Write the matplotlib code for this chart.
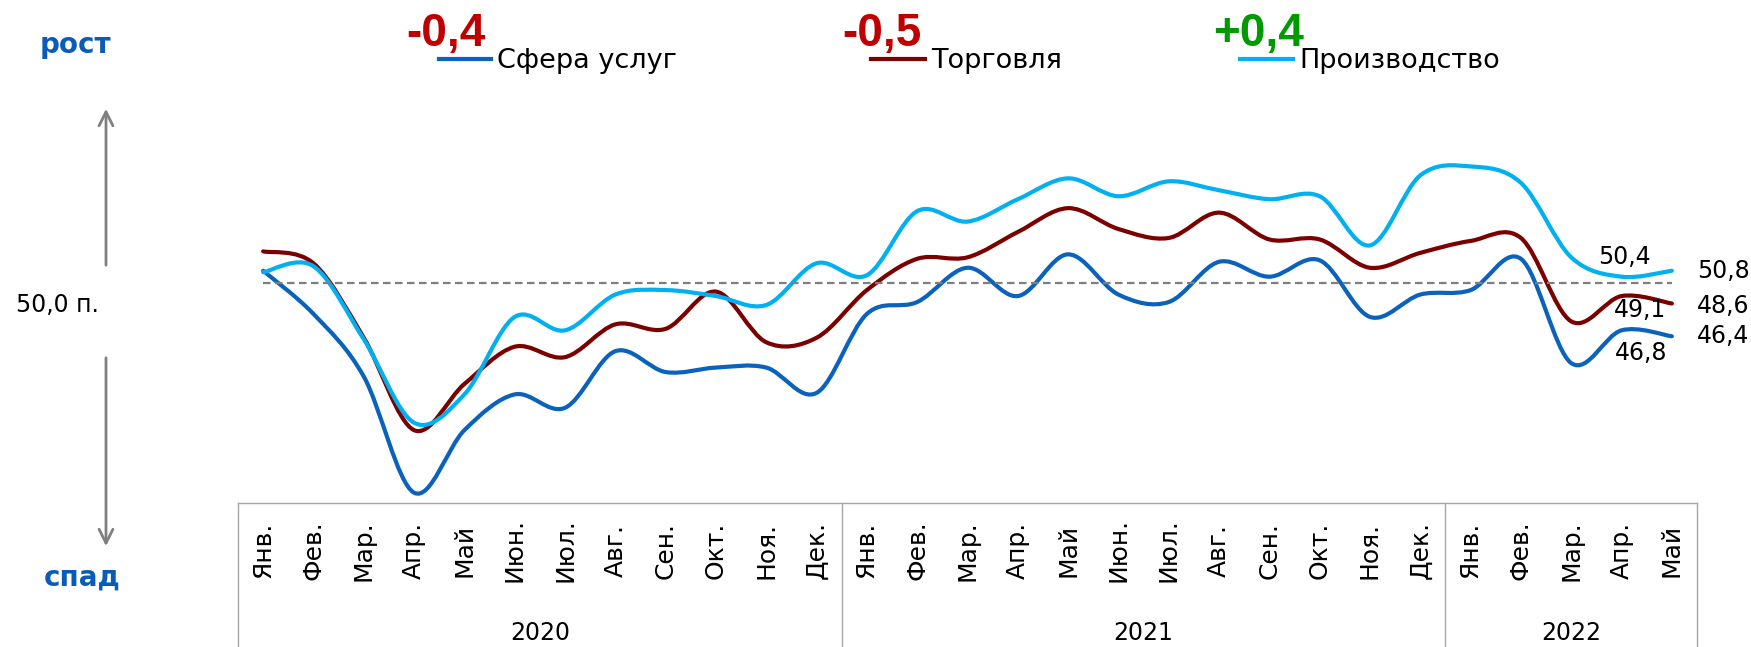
import numpy as np
import matplotlib.pyplot as plt
from matplotlib.path import Path
from matplotlib.patches import PathPatch, FancyArrowPatch
from matplotlib.lines import Line2D

plt.rcParams['font.family'] = ['DejaVu Sans']

# data: PMI-like index, Jan 2020 - May 2022
months = ['Янв.', 'Фев.', 'Мар.', 'Апр.', 'Май', 'Июн.', 'Июл.', 'Авг.', 'Сен.', 'Окт.', 'Ноя.', 'Дек.',
          'Янв.', 'Фев.', 'Мар.', 'Апр.', 'Май', 'Июн.', 'Июл.', 'Авг.', 'Сен.', 'Окт.', 'Ноя.', 'Дек.',
          'Янв.', 'Фев.', 'Мар.', 'Апр.', 'Май']
years = ['2020', '2021', '2022']
year_len = [12, 12, 5]

services = [50.8, 47.9, 43.7, 35.9, 40.1, 42.5, 41.6, 45.4, 44.0, 44.3, 44.3, 42.6,
            47.9, 48.7, 51.0, 49.1, 51.9, 49.2, 48.7, 51.4, 50.4, 51.5, 47.7, 49.2,
            49.5, 51.6, 44.6, 46.8, 46.4]
trade = [52.1, 51.3, 46.3, 40.1, 43.2, 45.7, 45.0, 47.2, 46.9, 49.4, 46.0, 46.3,
         49.5, 51.6, 51.7, 53.4, 55.0, 53.6, 53.0, 54.7, 52.9, 52.9, 51.0, 52.0,
         52.8, 53.0, 47.4, 49.1, 48.6]
production = [50.7, 51.1, 46.2, 40.6, 42.5, 47.7, 46.8, 49.2, 49.5, 49.1, 48.5, 51.3,
              50.5, 54.8, 54.1, 55.6, 57.0, 55.8, 56.8, 56.2, 55.6, 55.8, 52.5, 57.2,
              57.8, 56.7, 51.7, 50.4, 50.8]

names = ['Сфера услуг', 'Торговля', 'Производство']
changes = ['-0,4', '-0,5', '+0,4']
change_colors = ['#c00000', '#c00000', '#009a00']
colors = ['#0a62bd', '#7b0000', '#00b0f0']

W, H = 1751, 647


def fx(px):
    return px / W


def fy(py):
    return 1 - py / H


def fmt(v):
    return ('%.1f' % v).replace('.', ',')


def smooth_path(x, y):
    # excel style smoothed line: bezier segments
    verts = [(x[0], y[0])]
    codes = [Path.MOVETO]
    n = len(x)
    for i in range(n - 1):
        x0, y0 = (x[i - 1], y[i - 1]) if i > 0 else (x[i], y[i])
        x3, y3 = (x[i + 2], y[i + 2]) if i < n - 2 else (x[i + 1], y[i + 1])
        c1 = (x[i] + (x[i + 1] - x0) / 6, y[i] + (y[i + 1] - y0) / 6)
        c2 = (x[i + 1] - (x3 - x[i]) / 6, y[i + 1] - (y3 - y[i]) / 6)
        verts += [c1, c2, (x[i + 1], y[i + 1])]
        codes += [Path.CURVE4] * 3
    return Path(verts, codes)


fig = plt.figure(figsize=(W / 100, H / 100), dpi=100)
ax = fig.add_axes([fx(238), fy(503), fx(1697) - fx(238), fy(100) - fy(503)])
ax.set_xlim(-0.5, len(months) - 0.5)
ax.set_ylim(35.21, 62.26)
ax.axis('off')

x = np.arange(len(months))
ax.hlines(50, 0, len(months) - 1, colors='#7f7f7f', lw=1.6, linestyles=(0, (3.4, 2)))

for vals, c in zip([services, trade, production], colors):
    ax.add_patch(PathPatch(smooth_path(x, vals), fill=False, edgecolor=c, lw=3,
                           capstyle='round', joinstyle='round'))

# data labels
last = len(months) - 1
lab = 17
ax.annotate(fmt(production[last - 1]), (last - 1, production[last - 1]), xytext=(2, 14),
            textcoords='offset points', ha='center', va='center', fontsize=lab)
ax.annotate(fmt(trade[last - 1]), (last - 1, trade[last - 1]), xytext=(13, -10),
            textcoords='offset points', ha='center', va='center', fontsize=lab)
ax.annotate(fmt(services[last - 1]), (last - 1, services[last - 1]), xytext=(14, -16),
            textcoords='offset points', ha='center', va='center', fontsize=lab)
for vals, dy in zip([production, trade, services], [0, -1.5, 0]):
    ax.annotate(fmt(vals[last]), (last, vals[last]), xytext=(18, dy),
                textcoords='offset points', ha='left', va='center', fontsize=lab)

# category axis box
tr = ax.get_xaxis_transform()
ybot = -(H - 503) / 403
box = dict(color='#a6a6a6', lw=1, transform=tr, clip_on=False)
ax.plot([-0.5, last + 0.5], [0, 0], **box)
start = 0
seps = [-0.5]
for yr, n in zip(years, year_len):
    ax.text(start + (n - 1) / 2, -0.3226, yr, transform=tr, ha='center', va='center', fontsize=17)
    start += n
    seps.append(start - 0.5)
for s in seps:
    ax.plot([s, s], [0, ybot], **box)
for i, m in enumerate(months):
    ax.text(i, -0.117, m, transform=tr, rotation=90, ha='center', va='center', fontsize=18)

# legend with monthly change
change_x = [406, 842, 1213]
line_x = [(439, 491), (871, 925), (1240, 1293)]
for i in range(3):
    fig.text(fx(change_x[i]), fy(46), changes[i], color=change_colors[i], fontsize=33,
             fontweight='bold', family='Liberation Sans', ha='left', va='baseline')
    fig.add_artist(Line2D([fx(line_x[i][0]), fx(line_x[i][1])], [fy(59), fy(59)],
                          color=colors[i], lw=3, transform=fig.transFigure))
    fig.text(fx(line_x[i][1] + 6), fy(68), names[i], fontsize=19.5, ha='left', va='baseline')

# left side: growth / decline
fig.text(fx(75), fy(45), 'рост', color='#0a5cb8', fontsize=20, fontweight='bold', ha='center', va='center')
fig.text(fx(82), fy(578), 'спад', color='#0a5cb8', fontsize=20, fontweight='bold', ha='center', va='center')
fig.text(fx(57), fy(305), '50,0 п.', fontsize=17, ha='center', va='center')
for a, b in [((106, 268), (106, 106)), ((106, 355), (106, 549))]:
    fig.add_artist(FancyArrowPatch((fx(a[0]), fy(a[1])), (fx(b[0]), fy(b[1])),
                                   transform=fig.transFigure, arrowstyle='->',
                                   mutation_scale=25, color='#808080', lw=2))

fig.savefig('out.png', dpi=100)
